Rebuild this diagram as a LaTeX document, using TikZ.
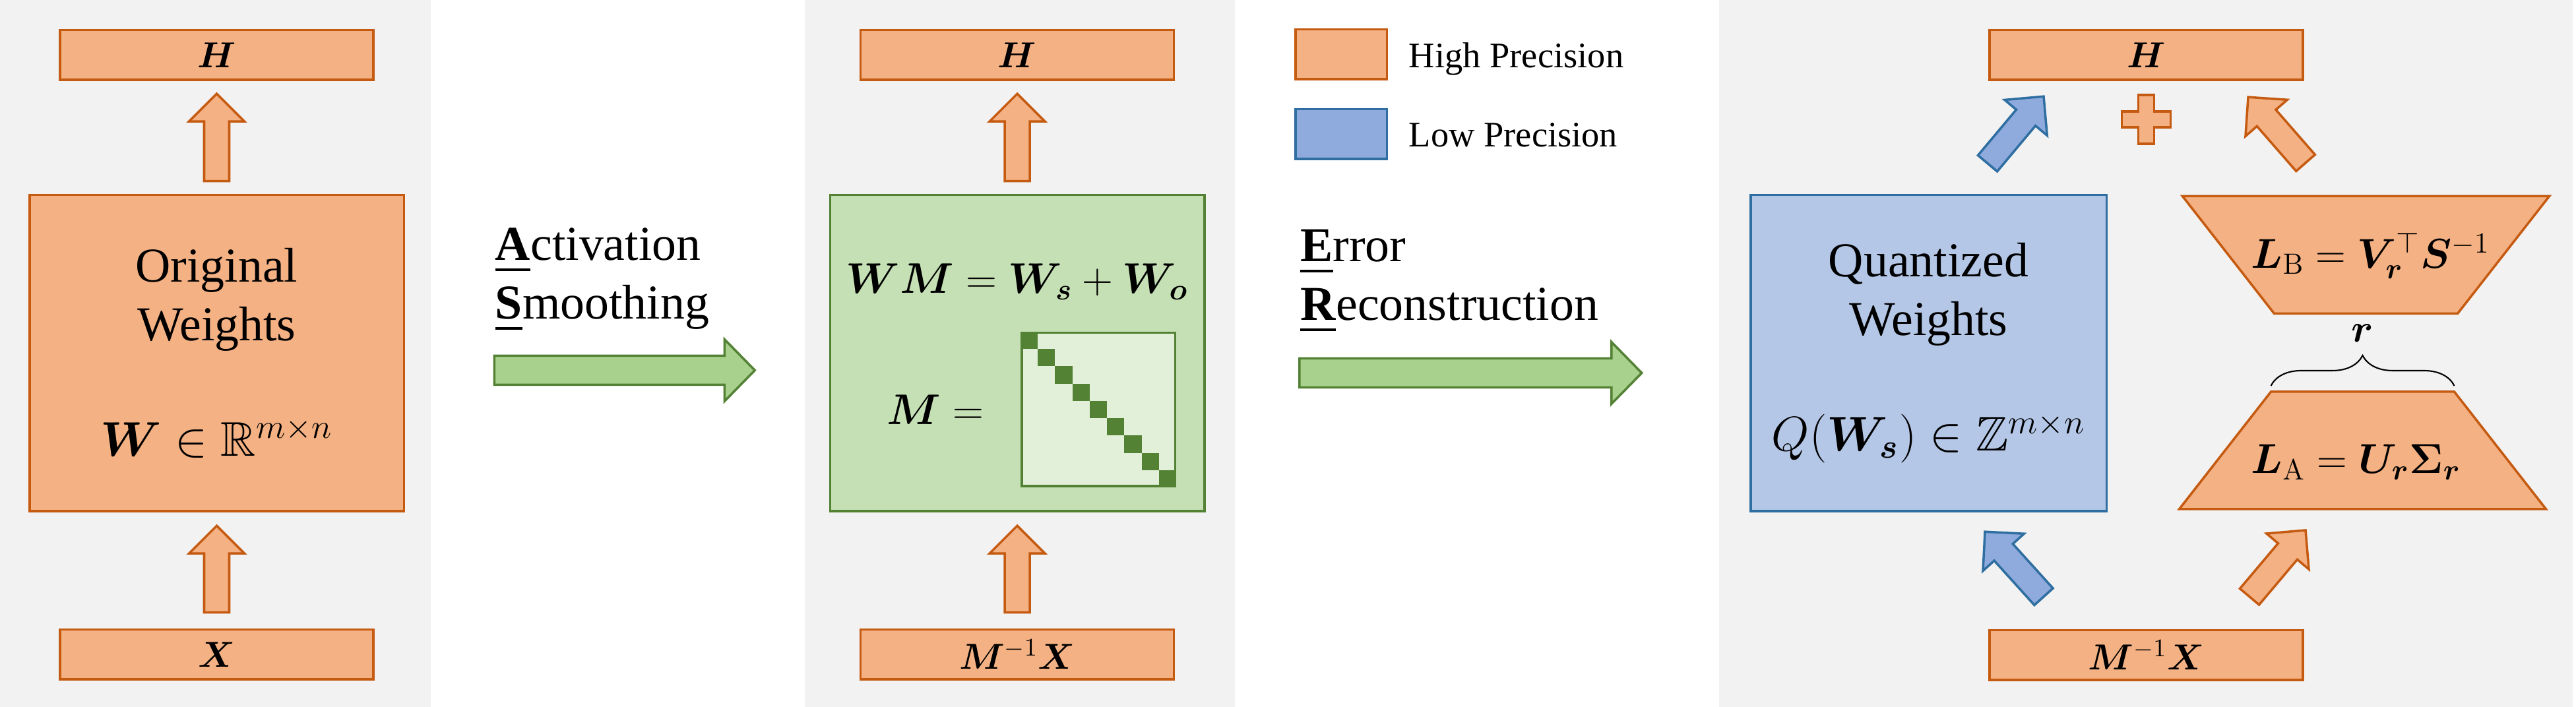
\RequirePackage{fix-cm}
\documentclass[tikz,border=0pt]{standalone}
\usepackage{amsmath,amssymb,bm}
\usepackage[no-math]{fontspec}
\setmainfont{Liberation Serif}
\usetikzlibrary{positioning,calc,decorations.pathreplacing}

\definecolor{hpfill}{HTML}{F4B183}
\definecolor{hpline}{HTML}{C55A11}
\definecolor{lpfill}{HTML}{8FAADC}
\definecolor{lplight}{HTML}{B4C7E7}
\definecolor{lpline}{HTML}{2E6EA0}
\definecolor{smfill}{HTML}{C5E0B4}
\definecolor{smlight}{HTML}{E2F0D9}
\definecolor{smline}{HTML}{548235}
\definecolor{flowfill}{HTML}{A9D18E}
\definecolor{panelgray}{HTML}{F2F2F2}

% block arrow from #2 to #3
\tikzset{
  ba shaft/.store in=\bashaft, ba head/.store in=\bahead, ba tip/.store in=\batip,
  ba shaft=0.19cm, ba head=0.42cm, ba tip=0.42cm
}
\newcommand{\blockarrow}[3][]{%
  \begin{scope}[#1]
    \coordinate (ba-base) at ($(#3)!\batip!(#2)$);
    \filldraw[#1] ($(#2)!\bashaft!90:(#3)$) -- ($(ba-base)!\bashaft!-90:(#2)$)
      -- ($(ba-base)!\bahead!-90:(#2)$) -- (#3) -- ($(ba-base)!\bahead!90:(#2)$)
      -- ($(ba-base)!\bashaft!90:(#2)$) -- ($(#2)!\bashaft!-90:(#3)$) -- cycle;
  \end{scope}}
\newcommand{\ulfirst}[1]{\setbox0\hbox{\textbf{#1}}\rlap{\rule[-4.6pt]{\wd0}{1.1pt}}\box0}

\begin{document}
\begin{tikzpicture}
    \tikzstyle{hp}=[draw=hpline, fill=hpfill, line width=1pt, outer sep=0pt]
    \tikzstyle{lp}=[draw=lpline, fill=lplight, line width=1pt, outer sep=0pt]
    \tikzstyle{bar}=[hp, minimum width=4.75cm, minimum height=0.755cm, inner sep=0pt, font=\fontsize{15.6pt}{18pt}\selectfont]
    \tikzstyle{weights}=[minimum width=5.675cm, minimum height=4.795cm, inner sep=0pt, align=center, font=\fontsize{21pt}{25.3pt}\selectfont]
    \tikzstyle{hp arrow}=[draw=hpline, fill=hpfill, line width=1pt]
    \tikzstyle{lp arrow}=[draw=lpline, fill=lpfill, line width=1pt]
    \tikzstyle{flow arrow}=[draw=smline, fill=flowfill, line width=1pt, ba shaft=0.22cm, ba head=0.47cm, ba tip=0.46cm]
    \tikzstyle{flow label}=[anchor=base west, inner sep=0pt, align=left, font=\fontsize{21pt}{25.3pt}\selectfont]
    \tikzstyle{legend text}=[anchor=base west, inner sep=0pt, font=\fontsize{15.5pt}{18pt}\selectfont]
    \tikzstyle{eq}=[inner sep=0pt, font=\fontsize{18.5pt}{22pt}\selectfont]
    \tikzstyle{formula}=[inner sep=0pt, font=\fontsize{18pt}{21pt}\selectfont]

    \useasboundingbox (0,0) rectangle (39.05,10.72);

    % Draw the panel backgrounds
    \fill[panelgray] (0,0) rectangle (6.53,10.72);
    \fill[panelgray] (12.20,0) rectangle (18.72,10.72);
    \fill[panelgray] (26.06,0) rectangle (39.00,10.72);

    % Draw the original layer
    \node[hp, weights] (OW) at (3.285,5.365) {Original\\Weights\\[0.86cm]$\bm{W}\in\mathbb{R}^{m\times n}$};
    \node[bar, above=1.745cm of OW] (H1) {$\bm{H}$};
    \node[bar, below=1.795cm of OW] (X1) {$\bm{X}$};
    \coordinate (ow-in-s) at ($(X1.north)+(0,0.26)$);
    \coordinate (ow-in-t) at ($(OW.south)+(0,-0.22)$);
    \coordinate (ow-out-s) at ($(OW.north)+(0,0.21)$);
    \coordinate (ow-out-t) at ($(H1.south)+(0,-0.21)$);
    \blockarrow[hp arrow]{ow-in-s}{ow-in-t}
    \blockarrow[hp arrow]{ow-out-s}{ow-out-t}

    % Draw the smoothed layer
    \node[weights, draw=smline, fill=smfill, line width=1pt, outer sep=0pt] (SM) at (15.42,5.365) {};
    \node[eq, anchor=base] (sm-eq) at ($(SM.north)+(0,-1.49)$) {$\bm{WM}=\bm{W}_{\bm{s}}+\bm{W}_{\bm{o}}$};
    \node[draw=smline, fill=smlight, line width=1pt, minimum size=2.325cm, inner sep=0pt, outer sep=0pt] (sm-mat) at ($(SM.center)+(1.23,-0.855)$) {};
    \foreach \i in {0,...,8}
      \fill[smline] ($(sm-mat.north west)+(-0.0175+\i*0.2622,0.0175-\i*0.2622)$) rectangle +(0.2622,-0.2622);
    \node[eq, left=0.57cm of sm-mat] (sm-m) {$\bm{M}=$};
    \node[bar, above=1.745cm of SM] (H2) {$\bm{H}$};
    \node[bar, below=1.795cm of SM] (X2) {$\bm{M}^{-1}\bm{X}$};
    \coordinate (sm-in-s) at ($(X2.north)+(0,0.26)$);
    \coordinate (sm-in-t) at ($(SM.south)+(0,-0.22)$);
    \coordinate (sm-out-s) at ($(SM.north)+(0,0.21)$);
    \coordinate (sm-out-t) at ($(H2.south)+(0,-0.21)$);
    \blockarrow[hp arrow]{sm-in-s}{sm-in-t}
    \blockarrow[hp arrow]{sm-out-s}{sm-out-t}

    % Draw the legend
    \node[hp, minimum width=1.385cm, minimum height=0.755cm] (leg-hp) at (20.33,9.895) {};
    \node[lp, fill=lpfill, minimum width=1.385cm, minimum height=0.755cm] (leg-lp) at (20.33,8.685) {};
    \node[legend text] (leg-hp-txt) at ($(leg-hp.east)+(0.33,-0.2)$) {High Precision};
    \node[legend text] (leg-lp-txt) at ($(leg-lp.east)+(0.33,-0.19)$) {Low Precision};

    % Draw the quantized layer
    \node[lp, weights, minimum width=5.395cm] (QW) at (29.235,5.365) {Quantized\\Weights\\[0.86cm]$Q(\bm{W}_{\bm{s}})\in\mathbb{Z}^{m\times n}$};
    \node[bar] (H3) at (32.535,9.885) {$\bm{H}$};
    \node[bar] (X3) at (32.535,0.785) {$\bm{M}^{-1}\bm{X}$};
    \coordinate (plus) at ($(H3.south)+(0,-0.6)$);
    \filldraw[hp arrow, shift={(plus)}] (-0.12,0.37) -- (0.12,0.37) -- (0.12,0.12) -- (0.37,0.12)
      -- (0.37,-0.12) -- (0.12,-0.12) -- (0.12,-0.37) -- (-0.12,-0.37) -- (-0.12,-0.12)
      -- (-0.37,-0.12) -- (-0.37,0.12) -- (-0.12,0.12) -- cycle;

    % Draw the low-rank branch
    \coordinate (LB) at (35.865,6.855);
    \coordinate (LA) at (35.815,3.89);
    \filldraw[hp arrow] ($(LB)+(-2.78,0.89)$) -- ($(LB)+(2.78,0.89)$) -- ($(LB)+(1.39,-0.89)$) -- ($(LB)+(-1.39,-0.89)$) -- cycle;
    \filldraw[hp arrow] ($(LA)+(-1.39,0.89)$) -- ($(LA)+(1.39,0.89)$) -- ($(LA)+(2.78,-0.89)$) -- ($(LA)+(-2.78,-0.89)$) -- cycle;
    \node[formula, anchor=base] (LB-eq) at ($(LB)+(0.07,-0.2)$) {$\bm{L}_{\mathrm{B}}=\bm{V}_{\bm{r}}^{\top}\bm{S}^{-1}$};
    \node[formula, anchor=base] (LA-eq) at ($(LA)+(-0.1,-0.35)$) {$\bm{L}_{\mathrm{A}}=\bm{U}_{\bm{r}}\bm{\Sigma}_{\bm{r}}$};
    \draw[decorate, decoration={brace, amplitude=0.46cm}, line width=0.6pt]
      ($(LA)+(-1.39,0.98)$) -- ($(LA)+(1.39,0.98)$)
      node[midway, above=0.65cm, inner sep=0pt, font=\fontsize{17pt}{20pt}\selectfont] (rank) {$\bm{r}$};

    \coordinate (qo-s) at ($(QW.north)+(0.895,0.48)$);
    \coordinate (qo-t) at ($(H3.south)+(-1.555,-0.25)$);
    \coordinate (qi-s) at ($(X3.north)+(-1.555,0.51)$);
    \coordinate (qi-t) at ($(QW.south)+(0.855,-0.31)$);
    \coordinate (lbo-s) at ($(LB)+(-0.915,1.395)$);
    \coordinate (lbo-t) at ($(H3.south)+(1.545,-0.26)$);
    \coordinate (lai-s) at ($(X3.north)+(1.565,0.51)$);
    \coordinate (lai-t) at ($(LA)+(-0.865,-1.21)$);
    \blockarrow[lp arrow]{qi-s}{qi-t}
    \blockarrow[lp arrow]{qo-s}{qo-t}
    \blockarrow[hp arrow]{lai-s}{lai-t}
    \blockarrow[hp arrow]{lbo-s}{lbo-t}

    % Draw the flow between the panels
    \coordinate (as-s) at ($(OW.east)+(1.37,-0.26)$);
    \coordinate (as-t) at ($(SM.west)+(-1.14,-0.26)$);
    \blockarrow[flow arrow]{as-s}{as-t}
    \node[flow label] (as-lbl) at ($(as-s)+(0.01,0.78)$) {\ulfirst{A}ctivation\\\ulfirst{S}moothing};
    \coordinate (er-s) at ($(SM.east)+(1.44,-0.30)$);
    \coordinate (er-t) at ($(QW.west)+(-1.65,-0.30)$);
    \blockarrow[flow arrow]{er-s}{er-t}
    \node[flow label] (er-lbl) at ($(er-s)+(0.01,0.8)$) {\ulfirst{E}rror\\\ulfirst{R}econstruction};
\end{tikzpicture}
\end{document}
